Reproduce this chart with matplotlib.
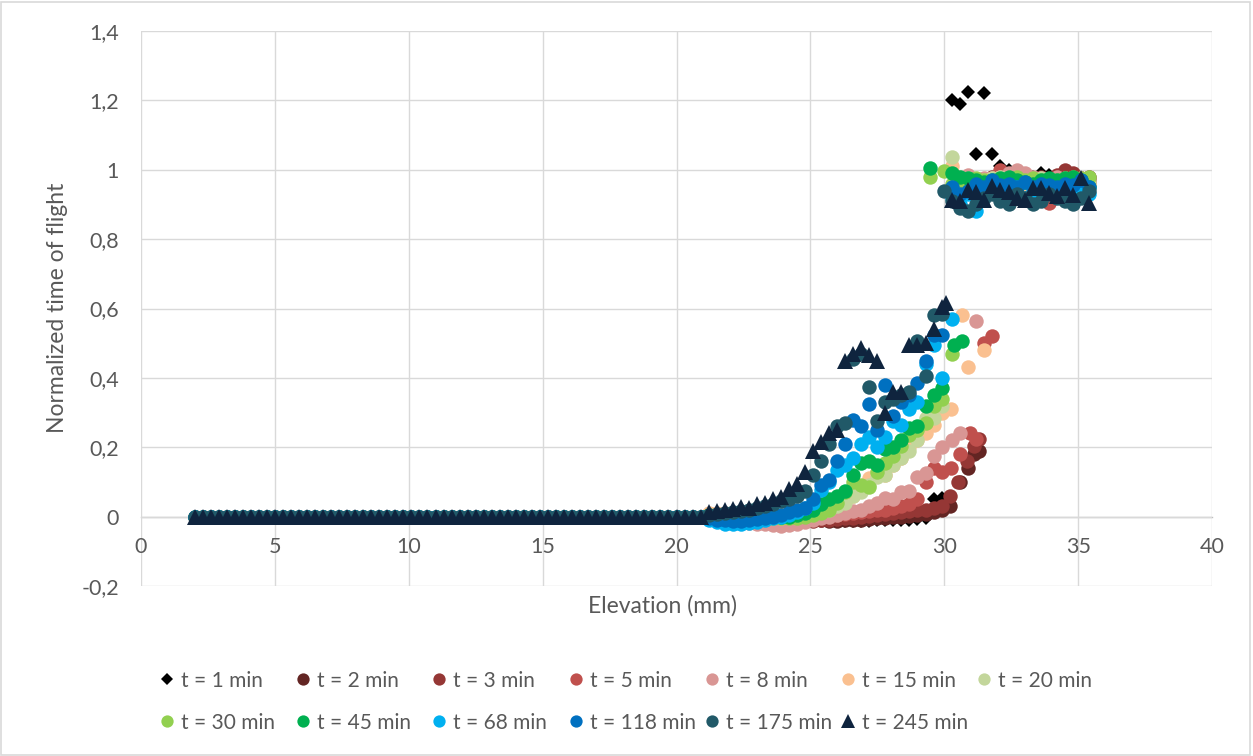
import matplotlib
matplotlib.use("Agg")
import matplotlib.pyplot as plt
from matplotlib.lines import Line2D
from matplotlib.patches import Rectangle
from matplotlib.ticker import FuncFormatter
import numpy as np

plt.rcParams['font.family'] = ['Lato', 'DejaVu Sans']

nan = np.nan

# elevation steps (mm) of the flat part, where every profile sits at 0
flat_elev = [2.0, 2.3, 2.6, 2.9, 3.2, 3.5, 3.8, 4.1, 4.4, 4.7, 5.0, 5.3, 5.6, 5.9, 6.2, 6.5,
             6.8, 7.1, 7.4, 7.7, 8.0, 8.3, 8.6, 8.9, 9.2, 9.5, 9.8, 10.1, 10.4, 10.7, 11.0, 11.3,
             11.6, 11.9, 12.2, 12.5, 12.8, 13.1, 13.4, 13.7, 14.0, 14.3, 14.6, 14.9, 15.2, 15.5,
             15.8, 16.1, 16.4, 16.7, 17.0, 17.3, 17.6, 17.9, 18.2, 18.5, 18.8, 19.1, 19.4, 19.7,
             20.0, 20.3, 20.6, 20.9]
flat_tof = [0.0] * len(flat_elev)

# elevation steps of the rising part
rise_elev = [21.2, 21.5, 21.8, 22.1, 22.4, 22.7, 23.0, 23.3, 23.6, 23.9, 24.2, 24.5, 24.8, 25.1,
             25.4, 25.7, 26.0, 26.3, 26.6, 26.9, 27.2, 27.5, 27.8, 28.1, 28.4, 28.7, 29.0, 29.3,
             29.6, 29.9]

# elevation steps of the upper plateau
upper_elev = [30.3, 30.6, 30.9, 31.2, 31.5, 31.8, 32.1, 32.4, 32.7, 33.0, 33.3, 33.6, 33.9,
              34.2, 34.5, 34.8, 35.1, 35.4]

labels = ["t = 1 min", "t = 2 min", "t = 3 min", "t = 5 min", "t = 8 min", "t = 15 min",
          "t = 20 min", "t = 30 min", "t = 45 min", "t = 68 min", "t = 118 min",
          "t = 175 min", "t = 245 min"]

rise_tof = [
    # 1 min
    [0, 0, 0, 0, 0, 0, 0, 0, -0.005, -0.005, -0.005, -0.008, -0.008, -0.01, -0.01, -0.01,
     -0.012, -0.012, -0.012, -0.012, -0.012, -0.01, -0.01, -0.01, -0.01, -0.01, -0.008,
     -0.005, 0.05, 0.055],
    # 2 min
    [0, 0, 0, 0, 0, 0, 0, 0, 0, -0.005, -0.005, -0.008, -0.008, -0.01, -0.01, -0.012,
     -0.012, -0.01, -0.01, -0.01, -0.008, -0.005, -0.003, 0.0, 0.0, 0.003, 0.005, 0.008,
     0.012, 0.02],
    # 3 min
    [0, 0, 0, 0, 0, 0, -0.003, -0.005, -0.005, -0.008, -0.01, -0.01, -0.012, -0.012, -0.01,
     -0.01, -0.008, -0.005, -0.003, 0.0, 0.003, 0.005, 0.008, 0.01, 0.012, 0.015, 0.018,
     0.02, 0.025, 0.03],
    # 5 min
    [0, 0, 0, -0.003, -0.005, -0.005, -0.008, -0.01, -0.01, -0.012, -0.012, -0.01, -0.008,
     -0.005, 0.0, 0.003, 0.005, 0.008, 0.01, 0.012, 0.015, 0.018, 0.02, 0.025, 0.03, 0.035,
     0.05, 0.1, 0.14, 0.13],
    # 8 min
    [-0.005, -0.008, -0.01, -0.012, -0.015, -0.018, -0.02, -0.022, -0.025, -0.028, -0.025,
     -0.02, -0.015, -0.01, -0.005, 0.0, 0.005, 0.01, 0.015, 0.02, 0.03, 0.04, 0.055, 0.05,
     0.07, 0.075, 0.115, 0.125, 0.175, 0.2],
    # 15 min
    [0.01, 0.01, 0.01, 0.008, 0.005, 0.005, 0.0, 0.0, -0.005, -0.005, 0.0, 0.005, 0.01, 0.015,
     0.02, 0.025, 0.035, 0.045, 0.06, 0.08, 0.11, 0.13, 0.12, 0.15, 0.17, 0.2, 0.22, 0.24,
     0.265, 0.3],
    # 20 min
    [0.005, 0.005, 0.005, 0.005, 0.005, 0.003, 0.0, 0.0, 0.0, 0.0, 0.0, 0.0, 0.005, 0.01,
     0.015, 0.02, 0.03, 0.04, 0.06, 0.07, 0.09, 0.115, 0.12, 0.15, 0.17, 0.19, 0.22, 0.285,
     0.285, 0.32],
    # 30 min
    [0.005, 0.005, 0.005, 0.005, 0.003, 0.0, 0.0, 0.0, -0.003, -0.005, -0.005, -0.005, 0.0,
     0.005, 0.01, 0.02, 0.04, 0.07, 0.1, 0.09, 0.085, 0.13, 0.155, 0.175, 0.205, 0.235, 0.25,
     0.27, 0.32, 0.34],
    # 45 min
    [0.005, 0.005, 0.005, 0.003, 0.0, 0.0, 0.0, 0.0, 0.0, 0.0, 0.0, 0.005, 0.01, 0.02, 0.035,
     0.05, 0.06, 0.075, 0.12, 0.155, 0.16, 0.15, 0.195, 0.2, 0.22, 0.255, 0.26, 0.32, 0.35,
     0.37],
    # 68 min
    [-0.01, -0.015, -0.02, -0.02, -0.02, -0.018, -0.015, -0.01, -0.005, 0.0, 0.005, 0.012,
     0.025, 0.04, 0.078, 0.1, 0.135, 0.15, 0.17, 0.21, 0.23, 0.2, 0.23, 0.275, 0.265, 0.31,
     0.33, 0.44, 0.495, 0.4],
    # 118 min
    [-0.005, -0.01, -0.01, -0.012, -0.012, -0.01, -0.008, -0.005, 0.0, 0.005, 0.012, 0.018,
     0.025, 0.05, 0.09, 0.105, 0.16, 0.21, 0.28, 0.26, 0.325, 0.25, 0.38, 0.29, 0.33, 0.35,
     0.385, 0.45, 0.525, 0.525],
    # 175 min
    [0.005, 0.008, 0.01, 0.012, 0.015, 0.02, 0.025, 0.03, 0.035, 0.045, 0.05, 0.06, 0.075,
     0.12, 0.16, 0.21, 0.26, 0.27, 0.455, 0.47, 0.375, 0.275, 0.33, 0.34, 0.35, 0.36, 0.505,
     0.405, 0.58, 0.585],
    # 245 min
    [0.012, 0.015, 0.02, 0.022, 0.027, 0.025, 0.035, 0.038, 0.05, 0.058, 0.08, 0.095, 0.13,
     0.19, 0.215, 0.24, 0.25, 0.45, 0.47, 0.485, 0.465, 0.45, 0.3, 0.36, 0.36, 0.495, 0.495,
     0.5, 0.54, 0.605],
]

upper_tof = [
    [1.2, 1.19, 1.225, 1.045, 1.22, 1.045, 1.01, 1.0, 0.99, 0.985, 0.98, 0.99, 0.985, 0.98,
     0.975, 0.98, 0.975, 0.97],
    [nan, nan, nan, nan, nan, 0.97, 0.975, 0.98, 0.975, 0.97, 0.965, 0.975, 0.97, 0.965,
     0.975, 0.97, 0.965, 0.97],
    [nan, nan, nan, nan, nan, 0.98, 0.985, 0.975, 0.98, 0.97, 0.975, 0.98, 0.97, 0.985, 1.0,
     0.99, 0.975, 0.98],
    [nan, nan, nan, nan, nan, nan, 1.0, 0.97, 0.965, 0.96, 0.965, 0.955, 0.905, 0.96, 0.97,
     0.965, 0.96, 0.965],
    [nan, nan, 0.985, 0.97, 0.975, 0.97, 0.98, 0.99, 1.0, 0.99, 0.98, 0.975, 0.97, 0.98,
     0.975, 0.97, 0.975, 0.97],
    [1.01, 0.975, 0.97, 0.965, 0.97, 0.975, 0.97, 0.965, 0.97, 0.96, 0.965, 0.97, 0.96,
     0.965, 0.97, 0.96, 0.965, 0.96],
    [1.038, 0.98, 0.975, 0.97, 0.965, 0.975, 0.98, 0.975, 0.97, 0.965, 0.97, 0.975, 0.97,
     0.965, 0.97, 0.975, 0.97, 0.965],
    [0.96, 0.965, 0.97, 0.975, 0.97, 0.965, 0.97, 0.975, 0.98, 0.97, 0.975, 0.97, 0.965,
     0.97, 0.975, 0.98, 0.975, 0.98],
    [0.99, 0.98, 0.975, 0.97, 0.965, 0.97, 0.975, 0.98, 0.97, 0.965, 0.96, 0.97, 0.975,
     0.97, 0.975, 0.98, 0.97, 0.95],
    [0.92, 0.9, 0.93, 0.88, 0.94, 0.95, 0.93, 0.94, 0.95, 0.92, 0.94, 0.93, 0.95, 0.94,
     0.93, 0.95, 0.94, 0.93],
    [0.95, 0.93, 0.94, 0.96, 0.95, 0.97, 0.955, 0.96, 0.95, 0.965, 0.95, 0.96, 0.955, 0.95,
     0.96, 0.955, 0.97, 0.95],
    [0.91, 0.89, 0.88, 0.9, 0.92, 0.93, 0.91, 0.9, 0.93, 0.92, 0.9, 0.91, 0.93, 0.92, 0.91,
     0.9, 0.92, 0.94],
    [0.914, 0.909, 0.942, 0.937, 0.914, 0.952, 0.942, 0.937, 0.918, 0.914, 0.947, 0.947,
     0.933, 0.923, 0.947, 0.928, 0.976, 0.904],
]

# readings off the regular steps (late lower branch, early plateau)
extra_elev = [
    [],
    [30.2, 30.6, 30.9, 31.1, 31.3],
    [30.2, 30.5, 30.85, 31.1, 31.3],
    [30.25, 30.6, 30.95, 31.2, 31.5, 31.8],
    [30.3, 30.6, 31.2],
    [30.25, 30.65, 30.9, 31.5],
    [],
    [29.45, 30.0, 30.3],
    [29.45, 30.35, 30.65],
    [30.3],
    [],
    [30.0],
    [30.05],
]
extra_tof = [
    [],
    [0.03, 0.1, 0.14, 0.18, 0.19],
    [0.06, 0.1, 0.16, 0.205, 0.225],
    [0.14, 0.18, 0.24, 0.225, 0.5, 0.52],
    [0.22, 0.24, 0.563],
    [0.31, 0.582, 0.43, 0.48],
    [],
    [0.98, 0.995, 0.47],
    [1.005, 0.495, 0.505],
    [0.57],
    [],
    [0.94],
    [0.615],
]

colors = ["#000000", "#632523", "#953735", "#C0504D", "#D99694", "#FAC090", "#C3D69B",
          "#92D050", "#00B050", "#00B0F0", "#0070C0", "#215968", "#0F243E"]
markers = ["D"] + ["o"] * 11 + ["^"]
msizes = [7.6] + [10.4] * 11 + [11.5]

TEXT = "#595959"
GRID = "#D9D9D9"
W, H = 1253, 756

fig = plt.figure(figsize=(12.53, 7.56), dpi=100)
ax = fig.add_axes([141 / W, 1 - 586 / H, (1212 - 141) / W, (586 - 31) / H])

for i in range(len(labels)):
    x = flat_elev + rise_elev + upper_elev + extra_elev[i]
    y = flat_tof + rise_tof[i] + upper_tof[i] + extra_tof[i]
    ax.plot(x, y, linestyle="none", marker=markers[i], markersize=msizes[i],
            color=colors[i], markeredgewidth=0, label=labels[i], clip_on=False)

ax.set_xlim(0, 40)
ax.set_ylim(-0.2, 1.4)
ax.set_xticks(np.arange(0, 41, 5))
ax.set_yticks(np.arange(-0.2, 1.41, 0.2))
ax.yaxis.set_major_formatter(FuncFormatter(lambda v, p: f"{round(v, 1):g}".replace(".", ",")))
ax.xaxis.set_major_formatter(FuncFormatter(lambda v, p: f"{v:g}"))

ax.set_axisbelow(True)
ax.grid(True, color=GRID, linewidth=1.0)
for side in ["top", "right", "left"]:
    ax.spines[side].set_visible(False)
ax.spines["bottom"].set_position(("data", 0))
ax.spines["bottom"].set_color("#BFBFBF")
ax.spines["bottom"].set_linewidth(1.0)
ax.spines["bottom"].set_zorder(0.5)
ax.tick_params(axis="both", length=0, labelsize=15.5, labelcolor=TEXT)
ax.tick_params(axis="x", pad=15)
ax.tick_params(axis="y", pad=16)

fig.text(662 / W, 1 - 606 / H, "Elevation (mm)", ha="center", va="center",
         fontsize=16.5, color=TEXT)
fig.text(58 / W, 1 - 308 / H, "Normalized time of flight", ha="center", va="center",
         rotation=90, fontsize=16.5, color=TEXT)

# legend laid out in fixed slots, two rows of seven
for i, lab in enumerate(labels):
    row, col = divmod(i, 7)
    mx = (167 + 136.2 * col) / W
    my = 1 - (679 + 42 * row) / H
    fig.add_artist(Line2D([mx], [my], transform=fig.transFigure, linestyle="none",
                          marker=markers[i], markersize=msizes[i] * 0.85,
                          color=colors[i], markeredgewidth=0))
    fig.text(mx + 14 / W, my, lab, ha="left", va="center_baseline", fontsize=15,
             color=TEXT)

fig.patches.append(Rectangle((0.001, 0.001), 0.997, 0.997, transform=fig.transFigure,
                             fill=False, edgecolor=GRID, linewidth=1.2))

fig.savefig("out.png", dpi=100)
